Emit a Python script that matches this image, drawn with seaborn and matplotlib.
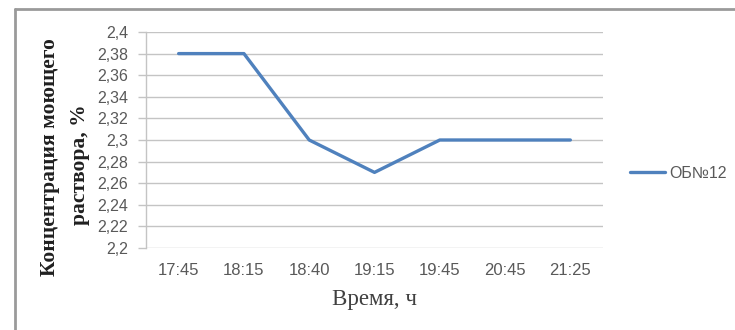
import matplotlib
matplotlib.use("Agg")
import matplotlib.pyplot as plt
from matplotlib.lines import Line2D
import seaborn as sns
import pandas as pd

times = ["17:45", "18:15", "18:40", "19:15", "19:45", "20:45", "21:25"]
concentration = [2.38, 2.38, 2.30, 2.27, 2.30, 2.30, 2.30]
y_ticks = [2.2, 2.22, 2.24, 2.26, 2.28, 2.3, 2.32, 2.34, 2.36, 2.38, 2.4]
y_tick_labels = ["2,2", "2,22", "2,24", "2,26", "2,28", "2,3", "2,32", "2,34", "2,36", "2,38", "2,4"]
series_name = "ОБ№12"

sns.set_theme(style="white")
plt.rcParams["font.family"] = ["Liberation Sans", "DejaVu Sans"]

df = pd.DataFrame({"Время": times, "Концентрация": concentration, "Серия": series_name})

fig = plt.figure(figsize=(7.35, 3.30), dpi=100)
ax = fig.add_axes([146 / 735, 1 - 248 / 330, (603 - 146) / 735, (248 - 32) / 330])

sns.lineplot(data=df, x="Время", y="Концентрация", hue="Серия", palette=["#4f81bd"],
             sort=False, linewidth=2.4, ax=ax, legend=False)

ax.set_xlim(-0.5, len(times) - 0.5)
ax.set_ylim(2.2, 2.4)
ax.set_yticks(y_ticks)
ax.set_yticklabels(y_tick_labels)
ax.yaxis.grid(True, color="#c4c4c4", linewidth=1.0)
ax.set_axisbelow(True)

for side in ["top", "right", "bottom"]:
    ax.spines[side].set_visible(False)
ax.spines["left"].set_color("#c4c4c4")
ax.spines["left"].set_linewidth(1.0)

ax.tick_params(axis="y", which="major", length=6, width=1.0, color="#c4c4c4",
               labelsize=11.5, labelcolor="#595959", pad=7, left=True)
ax.tick_params(axis="x", which="major", length=0, labelsize=12,
               labelcolor="#595959", pad=11)

ax.set_xlabel("")
ax.set_ylabel("")

fig.text(375 / 735, 1 - 300 / 330, "Время, ч", ha="center", va="center",
         fontsize=16.5, family="Liberation Serif", color="#404040")
fig.text(50 / 735, 1 - 157 / 330, "Концентрация моющего", rotation=90,
         ha="center", va="center", fontsize=15.5, family="Liberation Serif",
         fontweight="bold", color="#202020")
fig.text(80 / 735, 1 - 165 / 330, "раствора, %", rotation=90,
         ha="center", va="center", fontsize=15.5, family="Liberation Serif",
         fontweight="bold", color="#202020")

handle = Line2D([], [], color="#4f81bd", linewidth=2.4)
fig.legend([handle], [series_name], loc="center left",
           bbox_to_anchor=(630 / 735, 1 - 173 / 330), frameon=False,
           borderpad=0, borderaxespad=0,
           handlelength=2.2, handletextpad=0.25, fontsize=11.5,
           labelcolor="#595959")

# outer chart frame (left and top edges)
fig.add_artist(Line2D([15 / 735, 15 / 735], [0, 1 - 9 / 330], transform=fig.transFigure,
                      color="#9a9a9a", linewidth=2))
fig.add_artist(Line2D([15 / 735, 1], [1 - 9 / 330, 1 - 9 / 330], transform=fig.transFigure,
                      color="#9a9a9a", linewidth=2))

fig.savefig("out.png", dpi=100, facecolor="white")
